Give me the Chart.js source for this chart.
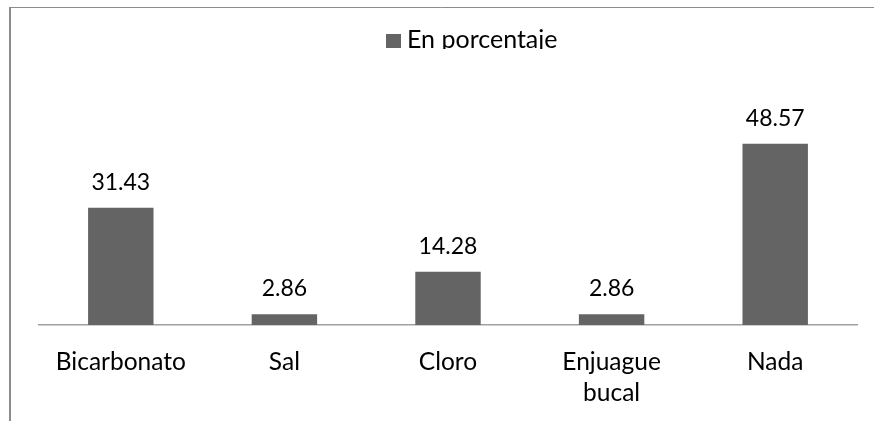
<!DOCTYPE html>
<html>
<head>
<meta charset="utf-8">
<script src="https://cdn.jsdelivr.net/npm/chart.js@4/dist/chart.umd.min.js"></script>
<style>
  html, body { margin: 0; padding: 0; background: #fff; }
  #wrap { width: 874px; height: 421px; position: relative; }
</style>
</head>
<body>
<div id="wrap"><canvas id="c" width="874" height="421"></canvas></div>
<script>
const categories = ['Bicarbonato', 'Sal', 'Cloro', ['Enjuague', 'bucal'], 'Nada'];
const seriesLabel = 'En porcentaje';
const values = [31.43, 2.86, 14.28, 2.86, 48.57];
const valueLabels = ['31.43', '2.86', '14.28', '2.86', '48.57'];

const FONT = 'Lato, "Open Sans", sans-serif';
const FS_VAL = 23;
const FS_TICK = 24.5;
const FS_LEG = 25;

const framePlugin = {
  id: 'frame',
  beforeDraw(chart) {
    const ctx = chart.ctx;
    ctx.save();
    ctx.strokeStyle = '#8c8c8c';
    ctx.lineWidth = 1;
    ctx.beginPath();
    ctx.moveTo(9, 7.5); ctx.lineTo(874, 7.5);
    ctx.stroke();
    ctx.lineWidth = 2;
    ctx.beginPath();
    ctx.moveTo(10, 7); ctx.lineTo(10, 421);
    ctx.stroke();
    ctx.restore();
  }
};

const labelPlugin = {
  id: 'valueLabels',
  afterDatasetsDraw(chart) {
    const ctx = chart.ctx;
    const meta = chart.getDatasetMeta(0);
    ctx.save();
    ctx.fillStyle = '#000';
    ctx.font = FS_VAL + 'px ' + FONT;
    ctx.textAlign = 'center';
    ctx.textBaseline = 'alphabetic';
    meta.data.forEach((bar, i) => {
      ctx.fillText(valueLabels[i], bar.x, bar.y - 18);
    });
    ctx.restore();
  }
};

const legendPlugin = {
  id: 'customLegend',
  afterDraw(chart) {
    const ctx = chart.ctx;
    const ds = chart.data.datasets[0];
    ctx.save();
    ctx.beginPath();
    ctx.rect(0, 0, 874, 49);
    ctx.clip();
    ctx.fillStyle = ds.backgroundColor;
    ctx.fillRect(386, 34, 15, 14);
    ctx.fillStyle = '#000';
    ctx.font = FS_LEG + 'px ' + FONT;
    ctx.textAlign = 'left';
    ctx.textBaseline = 'alphabetic';
    ctx.fillText(ds.label, 407, 48);
    ctx.restore();
  }
};

new Chart(document.getElementById('c'), {
  type: 'bar',
  data: {
    labels: categories,
    datasets: [{
      label: seriesLabel,
      data: values,
      backgroundColor: '#646464',
      borderWidth: 0,
      categoryPercentage: 1.0,
      barPercentage: 0.4
    }]
  },
  options: {
    responsive: false,
    animation: false,
    devicePixelRatio: 1,
    layout: { padding: { left: 39, right: 17, top: 101, bottom: 0 } },
    plugins: {
      legend: { display: false },
      tooltip: { enabled: false }
    },
    scales: {
      y: {
        display: false,
        min: 0,
        max: 60
      },
      x: {
        grid: { display: false, drawTicks: false },
        border: { display: true, color: '#a0a0a0', width: 1.5 },
        ticks: {
          color: '#000',
          padding: 21,
          maxRotation: 0,
          autoSkip: false,
          font: { family: FONT, size: FS_TICK, lineHeight: 1.28 }
        },
        afterFit(scale) { scale.height = 96; }
      }
    }
  },
  plugins: [framePlugin, labelPlugin, legendPlugin]
});
</script>
</body>
</html>
